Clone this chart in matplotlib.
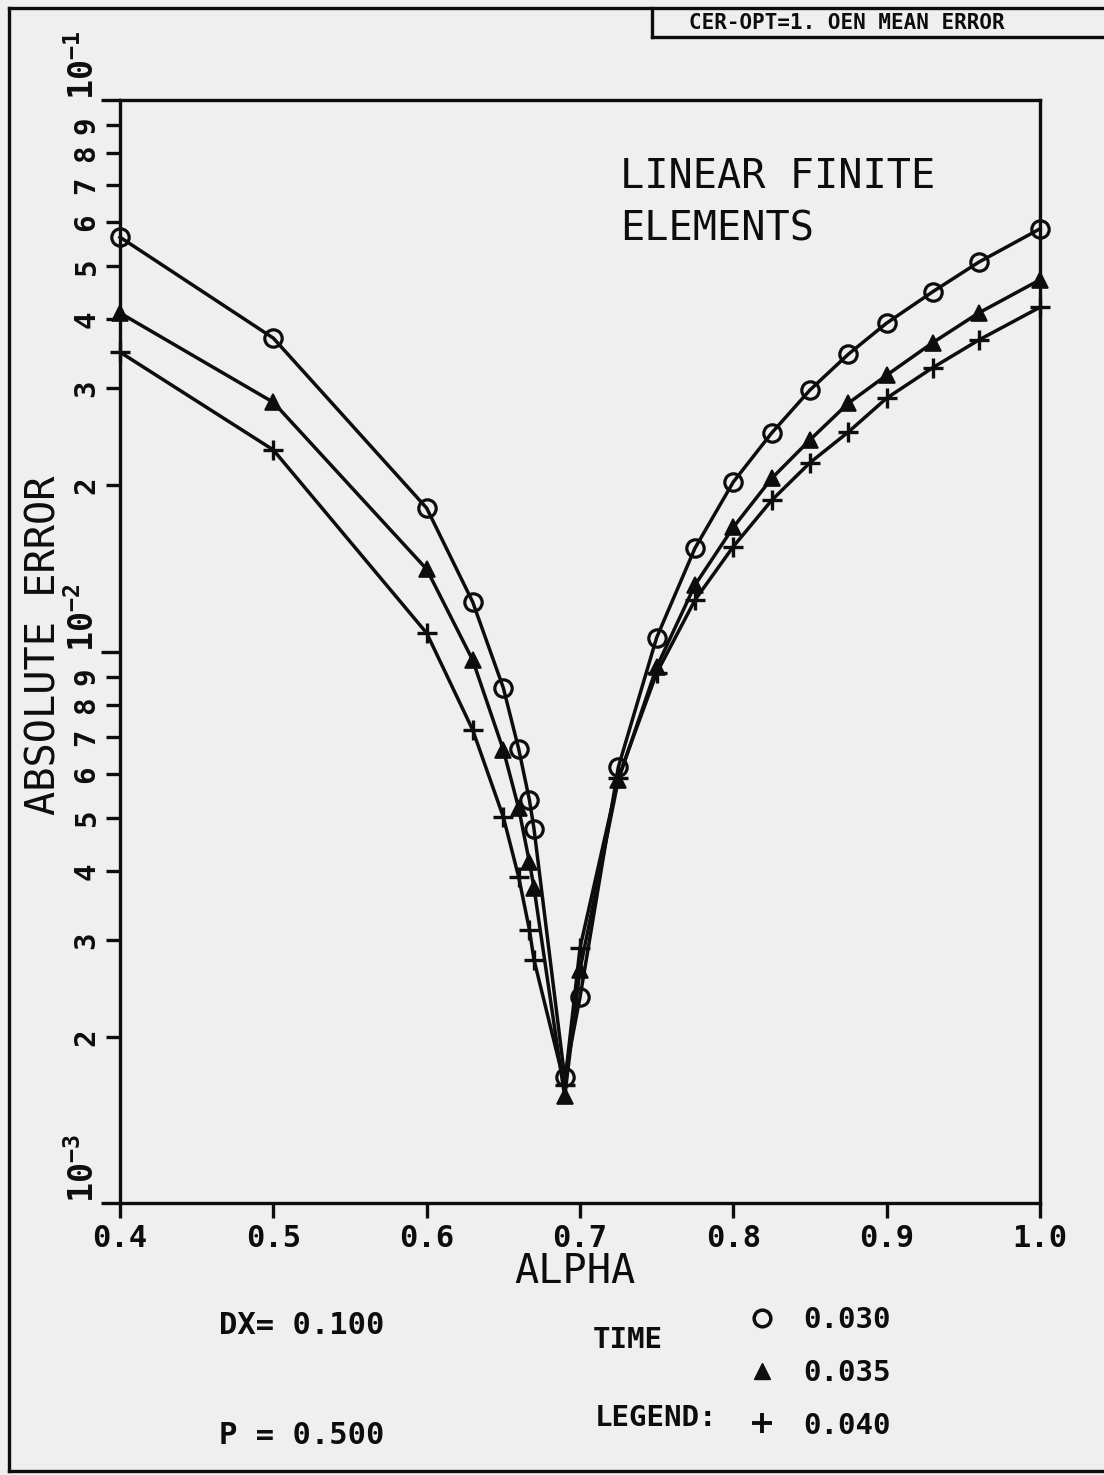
import matplotlib
matplotlib.use("Agg")
import matplotlib.pyplot as plt
from matplotlib.lines import Line2D
from matplotlib.ticker import FixedLocator

# ---- data -------------------------------------------------------------
alpha = [0.40, 0.50, 0.60, 0.63, 0.65, 0.66, 0.667, 0.67, 0.69, 0.70, 0.725,
         0.75, 0.775, 0.80, 0.825, 0.85, 0.875, 0.90, 0.93, 0.96, 1.00]

err_t030 = [0.0564, 0.0370, 0.0182, 0.0123, 0.00859, 0.00666, 0.00538, 0.00477,
            0.00169, 0.00236, 0.00617, 0.0106, 0.0154, 0.0203, 0.0249, 0.0298,
            0.0346, 0.0394, 0.0449, 0.0508, 0.0584]
err_t035 = [0.0411, 0.0283, 0.0141, 0.00965, 0.00663, 0.00520, 0.00415, 0.00373,
            0.00156, 0.00265, 0.00585, 0.00937, 0.0132, 0.0168, 0.0206, 0.0242,
            0.0282, 0.0317, 0.0363, 0.0411, 0.0472]
err_t040 = [0.0349, 0.0232, 0.0108, 0.00721, 0.00501, 0.00390, 0.00313, 0.00276,
            0.00164, 0.00290, 0.00590, 0.00914, 0.0124, 0.0155, 0.0188, 0.0220,
            0.0250, 0.0288, 0.0327, 0.0367, 0.0421]

time_labels = ["0.030", "0.035", "0.040"]
x_ticks = [0.4, 0.5, 0.6, 0.7, 0.8, 0.9, 1.0]
x_tick_labels = ["0.4", "0.5", "0.6", "0.7", "0.8", "0.9", "1.0"]
y_major = [1e-3, 1e-2, 1e-1]
y_major_labels = [r"$10^{-3}$", r"$10^{-2}$", r"$10^{-1}$"]
y_minor_digits = [2, 3, 4, 5, 6, 7, 8, 9]

# ---- style ------------------------------------------------------------
BG = "#efefef"
INK = "#0d0d0d"
plt.rcParams["font.family"] = ["DejaVu Sans Mono"]
plt.rcParams["mathtext.fontset"] = "custom"
plt.rcParams["mathtext.rm"] = "DejaVu Sans Mono:bold"
plt.rcParams["mathtext.it"] = "DejaVu Sans Mono:bold"
plt.rcParams["mathtext.bf"] = "DejaVu Sans Mono:bold"

W, H = 1104, 1475
fig = plt.figure(figsize=(W / 100, H / 100), dpi=100, facecolor=BG)


def fx(px):
    return px / W


def fy(py):
    return 1 - py / H


ax = fig.add_axes([fx(120), fy(1203), fx(1040) - fx(120), fy(100) - fy(1203)])
ax.set_facecolor(BG)
ax.set_yscale("log")
ax.set_xlim(0.4, 1.0)
ax.set_ylim(1e-3, 1e-1)

for s in ax.spines.values():
    s.set_linewidth(2.4)
    s.set_color(INK)

# ---- curves -----------------------------------------------------------
line_kw = dict(color=INK, lw=2.5, clip_on=False)
ax.plot(alpha, err_t030, marker="o", ms=12.5, mfc="none", mec=INK, mew=2.3, **line_kw)
ax.plot(alpha, err_t035, marker="^", ms=11.5, mfc=INK, mec=INK, mew=1.2, **line_kw)
ax.plot(alpha, err_t040, marker="+", ms=14, mec=INK, mew=2.4, **line_kw)

# ---- x axis -----------------------------------------------------------
ax.set_xticks(x_ticks)
ax.set_xticklabels(x_tick_labels, fontsize=22, fontweight="bold")
ax.tick_params(axis="x", which="major", direction="out", length=11, width=2.4,
               pad=4, color=INK, labelcolor=INK)
ax.tick_params(axis="x", which="minor", bottom=False)

# ---- y axis -----------------------------------------------------------
minor_vals = [d * 10.0 ** e for e in (-3, -2) for d in y_minor_digits]
ax.yaxis.set_major_locator(FixedLocator(y_major))
ax.yaxis.set_minor_locator(FixedLocator(minor_vals))
ax.set_yticklabels(y_major_labels, fontsize=24)
ax.set_yticks(minor_vals, labels=[str(d) for e in (-3, -2) for d in y_minor_digits],
              minor=True)
ax.tick_params(axis="y", which="major", direction="out", length=14, width=2.4,
               pad=0, color=INK, labelcolor=INK)
ax.tick_params(axis="y", which="minor", direction="out", length=10, width=2.4,
               pad=4, color=INK, labelcolor=INK)
for lab in ax.get_yticklabels():
    lab.set_rotation(90)
    lab.set_va("bottom")
for lab in ax.get_yticklabels(minor=True):
    lab.set_rotation(90)
    lab.set_va("center")
    lab.set_fontsize(21)
    lab.set_fontweight("bold")

# ---- axis titles ------------------------------------------------------
ax.set_xlabel("ALPHA", fontsize=29, color=INK)
ax.xaxis.set_label_coords((575 - 120) / 920, (1203 - 1272) / 1103)
ax.xaxis.label.set_va("center")
ax.set_ylabel("ABSOLUTE ERROR", fontsize=29, color=INK)
ax.yaxis.set_label_coords((45 - 120) / 920, (1203 - 645) / 1103)
ax.yaxis.label.set_va("center")

ax.text((620 - 120) / 920, (1203 - 157) / 1103, "LINEAR FINITE\nELEMENTS",
        transform=ax.transAxes, fontsize=29, color=INK, ha="left", va="top",
        linespacing=1.4)

# ---- run parameters and legend ---------------------------------------
fig.text(fx(219), fy(1325), "DX= 0.100", fontsize=22, fontweight="bold",
         color=INK, ha="left", va="center")
fig.text(fx(219), fy(1435), "P = 0.500", fontsize=22, fontweight="bold",
         color=INK, ha="left", va="center")
fig.text(fx(593), fy(1340), "TIME", fontsize=21, fontweight="bold",
         color=INK, ha="left", va="center")
fig.text(fx(595), fy(1418), "LEGEND:", fontsize=21, fontweight="bold",
         color=INK, ha="left", va="center")

handles = [
    Line2D([], [], ls="none", marker="o", ms=12, mfc="none", mec=INK, mew=2.5),
    Line2D([], [], ls="none", marker="^", ms=11, mfc=INK, mec=INK),
    Line2D([], [], ls="none", marker="+", ms=15, mec=INK, mew=2.8),
]
leg = fig.legend(handles, time_labels, loc="upper left",
                 bbox_to_anchor=(fx(746), fy(1306)), frameon=False,
                 prop=dict(family="DejaVu Sans Mono", weight="bold", size=21),
                 handlelength=1.1, handletextpad=0.85, labelspacing=0.85,
                 borderpad=0, borderaxespad=0)
for t in leg.get_texts():
    t.set_color(INK)

# ---- sheet border and header box ------------------------------------
frame_kw = dict(color=INK, lw=2.4, transform=fig.transFigure)
fig.add_artist(Line2D([fx(9), fx(9)], [fy(8), fy(1471)], **frame_kw))
fig.add_artist(Line2D([fx(9), 1], [fy(8), fy(8)], **frame_kw))
fig.add_artist(Line2D([fx(9), 1], [fy(1471), fy(1471)], **frame_kw))
fig.add_artist(Line2D([fx(652), fx(652)], [fy(8), fy(37)], **frame_kw))
fig.add_artist(Line2D([fx(652), 1], [fy(37), fy(37)], **frame_kw))
fig.text(fx(847), fy(23), "CER-OPT=1. OEN MEAN ERROR", fontsize=15,
         fontweight="bold", color=INK, ha="center", va="center")

fig.savefig("out.png", dpi=100, facecolor=BG)
